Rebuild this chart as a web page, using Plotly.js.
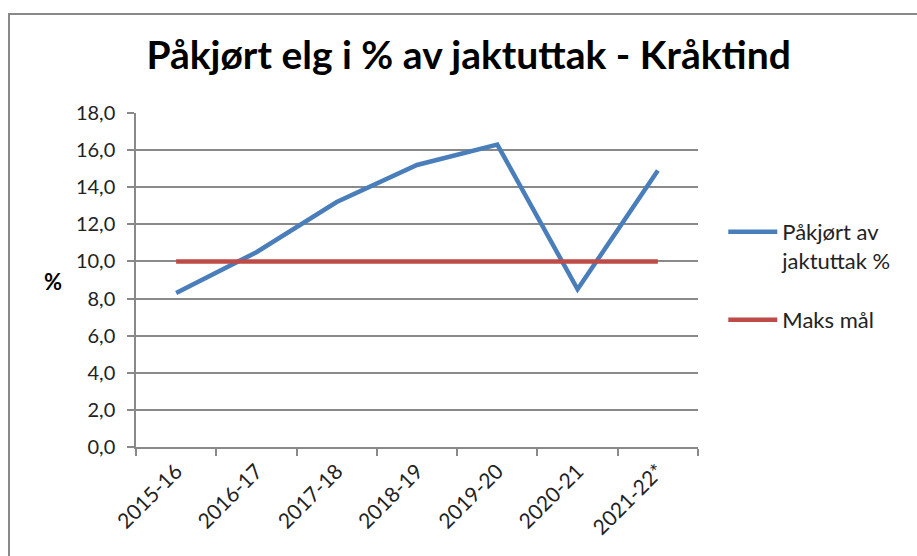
<!DOCTYPE html>
<html>
<head>
<meta charset="utf-8">
<script src="https://cdn.plot.ly/plotly-3.0.1.min.js"></script>
<style>
  html, body { margin: 0; padding: 0; background: #fff; }
  #wrap { position: relative; width: 917px; height: 556px; }
  #chart { position: absolute; left: 0; top: 0; width: 917px; height: 556px; }
  #frame { position: absolute; left: 8px; top: 13px; width: 909px; height: 543px;
           border-left: 2px solid #898989; border-top: 2px solid #898989; pointer-events: none; }
</style>
</head>
<body>
<div id="wrap">
  <div id="chart"></div>
  <div id="frame"></div>
</div>
<script>
const categories = ["2015-16", "2016-17", "2017-18", "2018-19", "2019-20", "2020-21", "2021-22*"];
const pakjortValues = [8.3, 10.5, 13.2, 15.2, 16.3, 8.5, 14.9];
const maksMalValues = [10, 10, 10, 10, 10, 10, 10];
const seriesNames = ["Påkjørt av<br>jaktuttak %", "Maks mål"];
const yTickValues = [0, 2, 4, 6, 8, 10, 12, 14, 16, 18];

const FONT = "Lato, 'Open Sans', sans-serif";

const traces = [
  {
    type: "scatter", mode: "lines", name: seriesNames[0], legendgroup: "g1",
    x: categories, y: pakjortValues,
    line: { color: "#4a7ebb", width: 4.5 },
    hoverinfo: "x+y"
  },
  {
    type: "scatter", mode: "lines", name: seriesNames[1], legendgroup: "g2",
    x: categories, y: maksMalValues,
    line: { color: "#be4b48", width: 4.5 },
    hoverinfo: "x+y"
  }
];

const layout = {
  width: 917, height: 556,
  paper_bgcolor: "#ffffff", plot_bgcolor: "#ffffff",
  separators: ",.",
  font: { family: FONT, color: "#222222", size: 20 },
  margin: { l: 136, r: 219, t: 113, b: 109, pad: 0 },
  title: {
    text: "<b>Påkjørt elg i % av jaktuttak - Kråktind</b>",
    font: { family: FONT, size: 39, color: "#000000" },
    x: 0.511, xref: "container", xanchor: "center",
    y: 0.9, yref: "container", yanchor: "middle"
  },
  xaxis: {
    type: "category",
    range: [-0.5, 6.5],
    tickangle: -45,
    tickson: "boundaries",
    ticks: "outside", ticklen: 7, tickwidth: 1.5, tickcolor: "#898989",
    showline: true, linecolor: "#898989", linewidth: 1.5,
    showgrid: false, zeroline: false,
    tickfont: { family: FONT, size: 21, color: "#222222" },
    ticklabelstandoff: 2,
    fixedrange: true
  },
  yaxis: {
    range: [0, 18],
    tickvals: yTickValues,
    tickformat: ".1f",
    ticks: "outside", ticklen: 7, tickwidth: 1.5, tickcolor: "#898989",
    showline: true, linecolor: "#898989", linewidth: 1.5,
    showgrid: true, gridcolor: "#898989", gridwidth: 1.5,
    zeroline: false,
    tickfont: { family: FONT, size: 20, color: "#222222" },
    ticklabelstandoff: 8,
    fixedrange: true
  },
  legend: {
    x: 1.045, xanchor: "left", xref: "paper",
    y: 0.707, yanchor: "top", yref: "paper",
    valign: "top",
    itemwidth: 49,
    traceorder: "grouped",
    tracegroupgap: 28,
    font: { family: FONT, size: 22, color: "#222222" },
    bgcolor: "rgba(0,0,0,0)"
  },
  annotations: [
    {
      text: "<b>%</b>", showarrow: false,
      xref: "paper", yref: "paper",
      x: -0.148, y: 0.497, xanchor: "center", yanchor: "middle",
      font: { family: FONT, size: 22, color: "#000000" }
    }
  ],
  showlegend: true
};

Plotly.newPlot("chart", traces, layout, { displayModeBar: false, staticPlot: false });
</script>
</body>
</html>
